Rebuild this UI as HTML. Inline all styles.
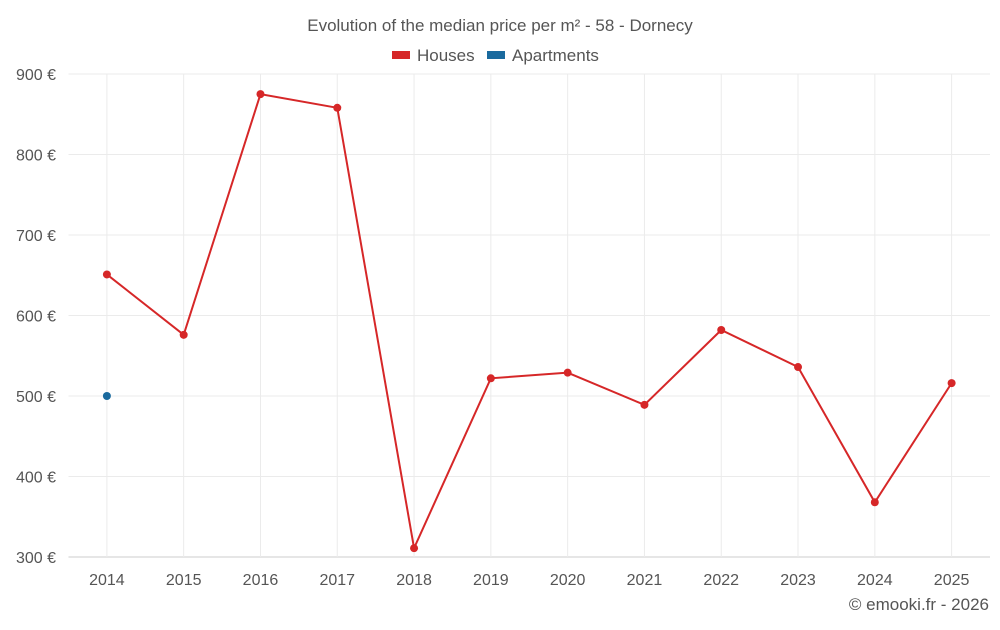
<!DOCTYPE html>
<html><head><meta charset="utf-8"><style>
body{margin:0;background:#fff;font-family:"Liberation Sans",sans-serif}
svg text{font-family:"Liberation Sans",sans-serif}
</style></head><body>
<svg id="chart" width="1000" height="625" xmlns="http://www.w3.org/2000/svg">
<text x="500" y="31" text-anchor="middle" font-size="17" fill="#555">Evolution of the median price per m² - 58 - Dornecy</text>
<g>
<g><rect x="392" y="51" width="18" height="8" fill="#d62728"/><text x="417" y="61" font-size="17" fill="#555">Houses</text></g>
<g><rect x="487" y="51" width="18" height="8" fill="#1a6a9e"/><text x="512" y="61" font-size="17" fill="#555">Apartments</text></g>
</g>
<g id="grid"></g><g id="axes"></g><g id="marks"></g>
<text x="989" y="610" text-anchor="end" font-size="17" fill="#555">© emooki.fr - 2026</text>
</svg>
<script>
const years=["2014","2015","2016","2017","2018","2019","2020","2021","2022","2023","2024","2025"];
const houses=[651,576,875,858,311,522,529,489,582,536,368,516];
const apartments=[500,null,null,null,null,null,null,null,null,null,null,null];
const yTicks=[300,400,500,600,700,800,900];
const L=68.5,R=990,T=74,B=557,yMin=300,yMax=900;
const bw=(R-L)/years.length;
const x=i=>L+bw*(i+0.5);
const y=v=>B-(v-yMin)/(yMax-yMin)*(B-T);
const NS="http://www.w3.org/2000/svg";
function mk(tag,attrs,parent,txt){const e=document.createElementNS(NS,tag);for(const k in attrs)e.setAttribute(k,attrs[k]);if(txt!=null)e.textContent=txt;document.getElementById(parent).appendChild(e);return e;}
yTicks.forEach(t=>{
 const g=mk('line',{x1:L,x2:R,y1:y(t),y2:y(t),stroke:t===yMin?'#ccc':'#ebebeb'},'grid');
 
 
 const lb=mk('text',{x:56,y:y(t)+6,'text-anchor':'end','font-size':16,fill:'#555'},'axes',t+' €');
 
 
});
years.forEach((yr,i)=>{
 const g=mk('line',{x1:x(i),x2:x(i),y1:T,y2:B,stroke:'#ebebeb'},'grid');
 
 
 const lb=mk('text',{x:x(i),y:585,'text-anchor':'middle','font-size':16,fill:'#555'},'axes',yr);
 
 
});
const pts=houses.map((v,i)=>v==null?null:x(i)+','+y(v)).filter(p=>p);
const pl=mk('polyline',{points:pts.join(' '),fill:'none',stroke:'#d62728','stroke-width':2},'marks');


houses.forEach((v,i)=>{if(v==null)return;
 const c=mk('circle',{cx:x(i),cy:y(v),r:4,fill:'#d62728'},'marks');
 
 
});
apartments.forEach((v,i)=>{if(v==null)return;
 const c=mk('circle',{cx:x(i),cy:y(v),r:4,fill:'#1a6a9e'},'marks');
 
 
});
</script>
</body></html>
